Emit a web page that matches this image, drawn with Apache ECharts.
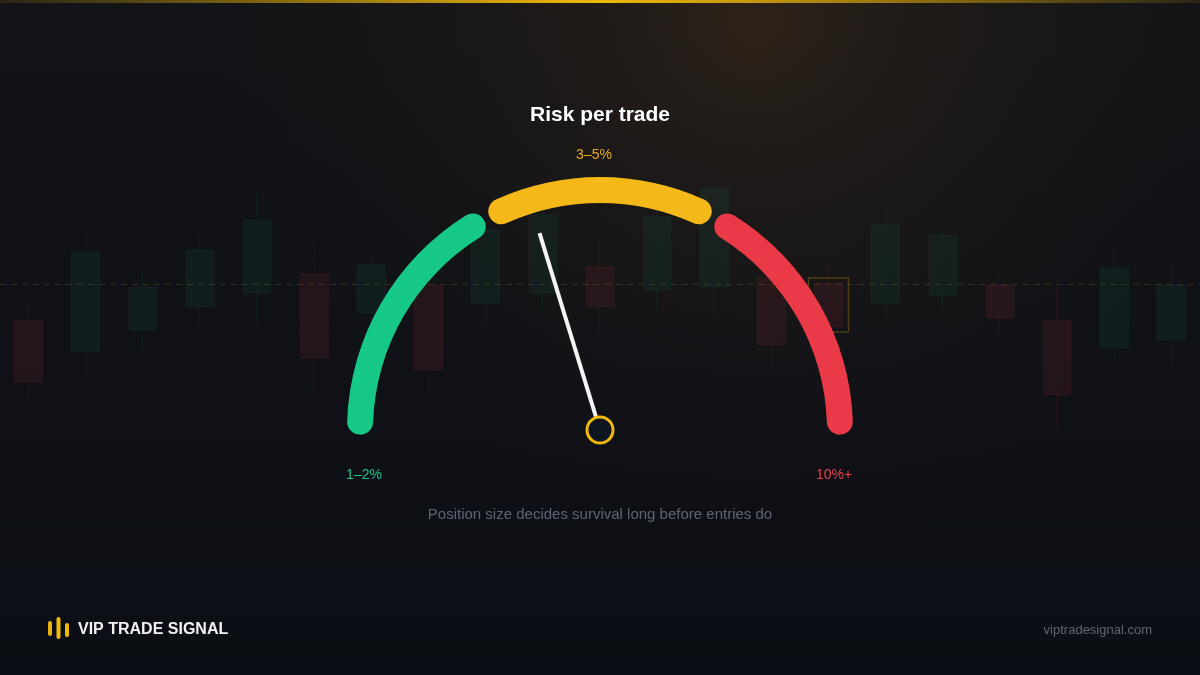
<!DOCTYPE html>
<html>
<head>
<meta charset="utf-8">
<script src="https://cdn.jsdelivr.net/npm/echarts@6/dist/echarts.min.js"></script>
<style>
html,body{margin:0;padding:0;background:#0d1016;}
#chart{width:1200px;height:675px;}
</style>
</head>
<body>
<div id="chart"></div>
<script>
// ---- Data ----
const chartTitle = 'Risk per trade';
const chartSubtitle = 'Position size decides survival long before entries do';
const zoneLabels = ['1–2%', '3–5%', '10%+'];
const zoneFrom = [0, 34, 66];
const zoneTo = [34, 66, 100];
const needleValue = 40.3;

// decorative background candles
const candleTimes = ['09:00','09:15','09:30','09:45','10:00','10:15','10:30','10:45','11:00','11:15','11:30',
                     '11:45','12:00','12:15','12:30','12:45','13:00','13:15','13:30','13:45','14:00'];
const candleOpen  = [355, 323, 345, 368, 382, 401, 362, 390, 372, 382, 408, 385, 388, 398, 392, 372, 380, 390, 355, 327, 335];
const candleClose = [293, 423, 388, 425, 455, 317, 410, 305, 445, 460, 368, 458, 487, 330, 348, 450, 440, 357, 280, 407, 390];
const candleLow   = [275, 300, 325, 352, 352, 285, 350, 280, 350, 365, 342, 365, 362, 307, 345, 358, 368, 343, 247, 310, 308];
const candleHigh  = [370, 445, 405, 438, 482, 433, 423, 400, 453, 470, 438, 470, 493, 402, 412, 465, 448, 398, 388, 425, 415];
const highlightIndex = 14;
const highlightTop = 397;
const highlightBottom = 343;
const referenceLevel = 391;

// ---- Build ----
const candleData = candleTimes.map((t, i) => [candleOpen[i], candleClose[i], candleLow[i], candleHigh[i]]);
const boxData = candleTimes.map((t, i) => i === highlightIndex ? [highlightTop, highlightBottom, highlightBottom, highlightTop] : '-');

const zoneColors = ['#17c987', '#f4b918', '#ea3a47'];
const labelColors = ['#1cc487', '#e6aa1d', '#e9414b'];
const labelOffsets = [[-236, 45], [-6, -275], [234, 45]];
const gapHalf = 2.2;
const A0 = 178, SPAN = 176;
const angleOf = v => A0 - v / 100 * SPAN;
const CENTER = [600, 430];
const RADIUS = 253;
const FONT = 'Liberation Sans, Arial, Helvetica, sans-serif';

const hidden = {
  axisTick: {show: false}, splitLine: {show: false}, axisLabel: {show: false},
  detail: {show: false}
};

const segSeries = zoneLabels.map((name, i) => Object.assign({
  type: 'gauge', z: 5, silent: true,
  center: CENTER, radius: RADIUS,
  startAngle: angleOf(zoneFrom[i] + (i === 0 ? 0 : gapHalf)),
  endAngle: angleOf(zoneTo[i] - (i === 2 ? 0 : gapHalf)),
  min: 0, max: 100,
  pointer: {show: false}, anchor: {show: false}, progress: {show: false},
  axisLine: {show: true, roundCap: true, lineStyle: {width: 26, color: [[1, zoneColors[i]]]}},
  title: {show: true, color: labelColors[i], fontSize: 14, fontFamily: FONT,
          offsetCenter: labelOffsets[i]},
  data: [{value: 0, name: name}]
}, hidden));

const pointerSeries = Object.assign({
  type: 'gauge', z: 6, silent: true,
  center: CENTER, radius: RADIUS,
  startAngle: A0, endAngle: A0 - SPAN, min: 0, max: 100,
  axisLine: {show: false}, progress: {show: false},
  pointer: {show: true, icon: 'rect', length: 206, width: 4, itemStyle: {color: '#f4f4f4'}},
  anchor: {show: true, showAbove: true, size: 26, icon: 'circle',
           itemStyle: {color: '#0e1520', borderColor: '#f0b90b', borderWidth: 3}},
  title: {show: false},
  data: [{value: needleValue}]
}, hidden);

const chart = echarts.init(document.getElementById('chart'), null, {renderer: 'canvas'});

chart.setOption({
  animation: false,
  backgroundColor: {
    type: 'linear', x: 0, y: 0, x2: 0, y2: 1,
    colorStops: [{offset: 0, color: '#131417'}, {offset: 0.55, color: '#101218'}, {offset: 1, color: '#0b0e14'}]
  },
  title: {
    text: chartTitle, left: 'center', top: 100,
    textStyle: {color: '#ffffff', fontSize: 21, fontWeight: 'bold', fontFamily: FONT}
  },
  grid: {left: 0, right: 0, top: 0, bottom: 0},
  xAxis: {type: 'category', data: candleTimes, show: false, boundaryGap: true},
  yAxis: {type: 'value', min: 0, max: 675, show: false},
  graphic: [
    {type: 'rect', z: -10, silent: true, shape: {x: 0, y: 0, width: 1200, height: 675},
     style: {fill: {type: 'radial', x: 0.63, y: 0.04, r: 0.8,
       colorStops: [{offset: 0, color: 'rgba(70,48,27,0.5)'}, {offset: 0.5, color: 'rgba(50,36,24,0.22)'}, {offset: 1, color: 'rgba(30,25,20,0)'}]}}},
    {type: 'rect', z: -10, silent: true, shape: {x: 0, y: 0, width: 1200, height: 675},
     style: {fill: {type: 'linear', x: 0, y: 0, x2: 0, y2: 1,
       colorStops: [{offset: 0, color: 'rgba(11,14,20,0)'}, {offset: 0.6, color: 'rgba(11,14,20,0.15)'}, {offset: 1, color: 'rgba(11,14,20,0.6)'}]}}},
    {type: 'rect', z: 20, silent: true, shape: {x: 0, y: 0, width: 1200, height: 3},
     style: {fill: {type: 'linear', x: 0, y: 0, x2: 1, y2: 0,
       colorStops: [{offset: 0, color: 'rgba(240,185,11,0.1)'}, {offset: 0.5, color: '#f0b90b'}, {offset: 1, color: 'rgba(240,185,11,0.1)'}]}}},
    {type: 'text', z: 20, silent: true, style: {x: 600, y: 515, text: chartSubtitle, fill: '#5e6572',
      font: '15px ' + FONT, textAlign: 'center', textVerticalAlign: 'middle'}},
    {type: 'rect', z: 20, silent: true, shape: {x: 48, y: 621, width: 4, height: 15, r: 2}, style: {fill: '#e8b10f'}},
    {type: 'rect', z: 20, silent: true, shape: {x: 56.5, y: 617, width: 4, height: 22, r: 2}, style: {fill: '#f0b90b'}},
    {type: 'rect', z: 20, silent: true, shape: {x: 65, y: 623, width: 4, height: 14, r: 2}, style: {fill: '#f0b90b'}},
    {type: 'text', z: 20, silent: true, style: {x: 78, y: 630, text: 'VIP TRADE SIGNAL', fill: '#f2f2f2',
      font: 'bold 16px ' + FONT, textAlign: 'left', textVerticalAlign: 'middle'}},
    {type: 'text', z: 20, silent: true, style: {x: 1152, y: 630, text: 'viptradesignal.com', fill: '#5f6673',
      font: '13px ' + FONT, textAlign: 'right', textVerticalAlign: 'middle'}}
  ],
  series: [
    {
      type: 'candlestick', z: 1, silent: true, barWidth: 28,
      data: candleData,
      itemStyle: {
        color: 'rgba(22,199,132,0.065)', borderColor: 'rgba(22,199,132,0.07)',
        color0: 'rgba(234,57,67,0.09)', borderColor0: 'rgba(234,57,67,0.09)', borderWidth: 1
      },
      markLine: {
        silent: true, symbol: 'none', label: {show: false},
        lineStyle: {color: 'rgba(240,185,11,0.16)', type: [6, 5], width: 1},
        data: [{yAxis: referenceLevel}]
      }
    },
    {
      type: 'candlestick', z: 1, silent: true, barWidth: 40,
      data: boxData,
      itemStyle: {
        color: 'rgba(0,0,0,0)', color0: 'rgba(0,0,0,0)',
        borderColor: 'rgba(240,185,11,0.25)', borderColor0: 'rgba(240,185,11,0.25)', borderWidth: 1.5
      }
    }
  ].concat(segSeries, [pointerSeries])
});
</script>
</body>
</html>
